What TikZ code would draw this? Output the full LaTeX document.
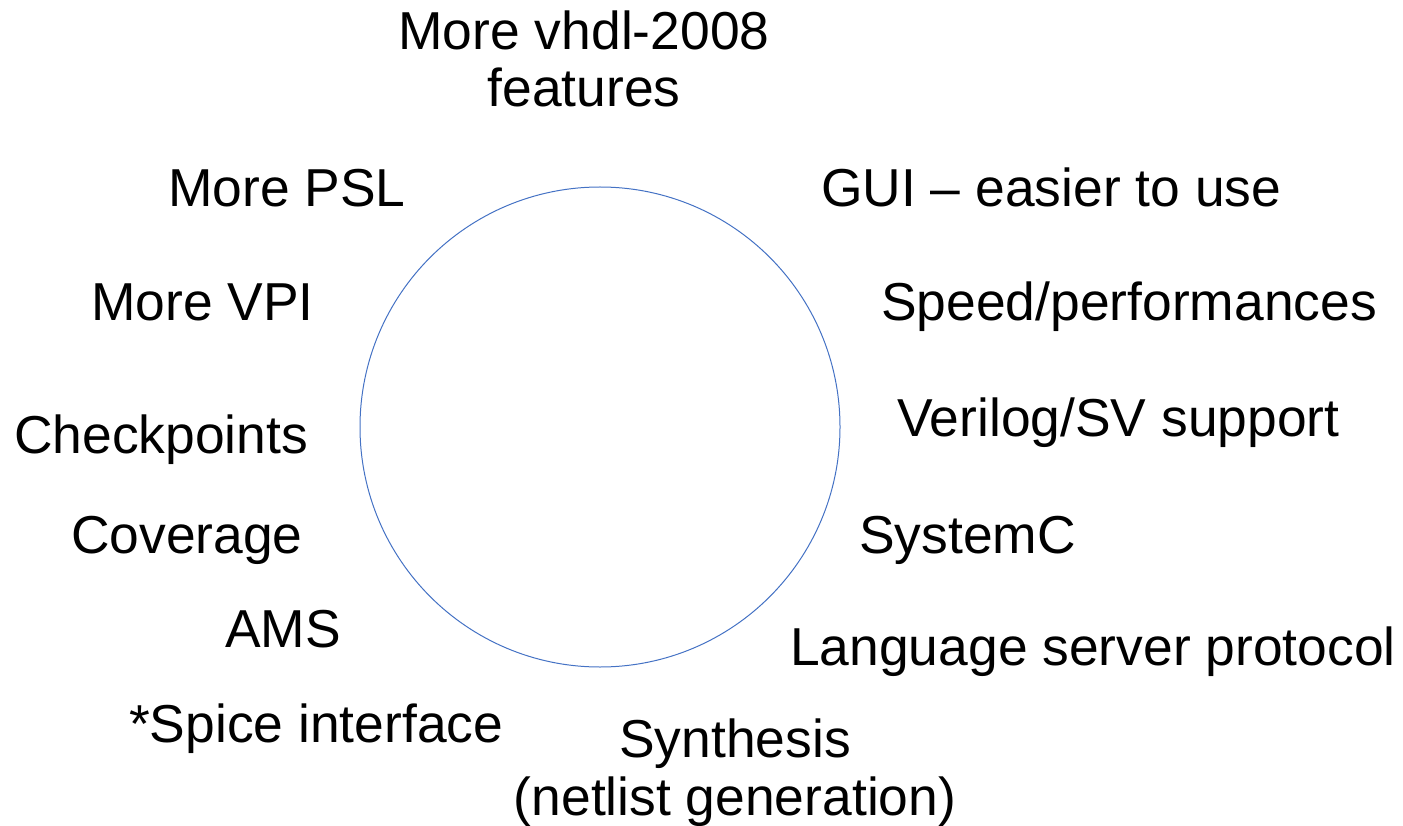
\documentclass[tikz,border=0pt]{standalone}
\usepackage{fontspec}
\setmainfont{Liberation Sans}
\definecolor{ringblue}{HTML}{4472C4}
\begin{document}
\begin{tikzpicture}[x=1pt,y=-1pt,
  item/.style={inner sep=0pt,anchor=base west,font=\fontsize{53.4}{57.5}\selectfont},
  citem/.style={inner sep=0pt,anchor=base,align=center,font=\fontsize{53.4}{57.5}\selectfont}]
\useasboundingbox (0,0) rectangle (1403,826);
% central ring
\node[draw=ringblue,line width=1pt,circle,minimum size=480pt,inner sep=0pt] (ring) at (600,427) {};
% wishes around the ring (two-line nodes are placed by their last baseline)
\node[citem] (vhdl) at (584,107) {More vhdl-2008\\features};
\node[item] (psl) at (168,207) {More PSL};
\node[item] (gui) at (821,207) {GUI – easier to use};
\node[item] (vpi) at (91,320) {More VPI};
\node[item] (speed) at (881,320) {Speed/performances};
\node[item] (ckpt) at (14,453) {Checkpoints};
\node[item] (verilog) at (897,436) {Verilog/SV support};
\node[item] (cov) at (71,553) {Coverage};
\node[item] (sysc) at (859,553) {SystemC};
\node[item] (ams) at (225,647) {AMS};
\node[item] (lsp) at (790,665) {Language server protocol};
\node[item] (spice) at (129,742) {*Spice interface};
\node[citem] (synth) at (735,815) {Synthesis\\(netlist generation)};
\end{tikzpicture}
\end{document}
